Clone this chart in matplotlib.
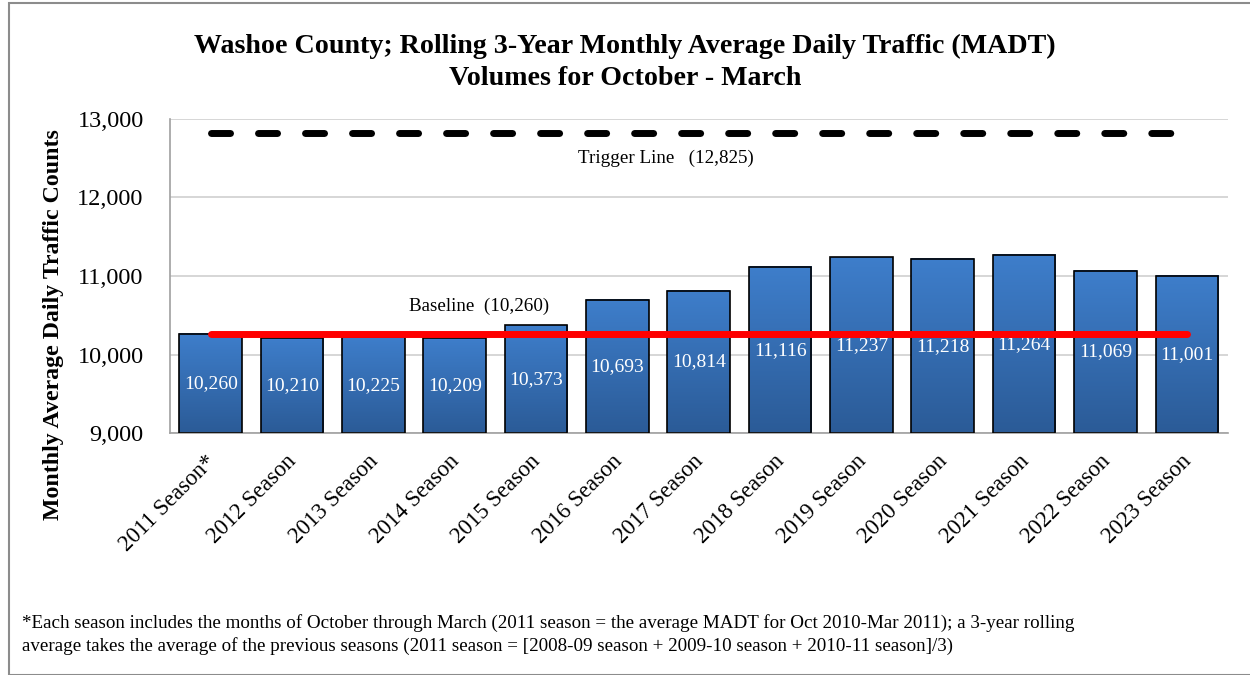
import numpy as np
import matplotlib
matplotlib.use('Agg')
from matplotlib import pyplot as plt
from matplotlib.patches import Rectangle
from matplotlib.transforms import ScaledTranslation

plt.rcParams['font.family'] = ['Liberation Serif', 'DejaVu Serif']

# data
seasons = ['2011 Season*', '2012 Season', '2013 Season', '2014 Season', '2015 Season',
           '2016 Season', '2017 Season', '2018 Season', '2019 Season', '2020 Season',
           '2021 Season', '2022 Season', '2023 Season']
madt = [10260, 10210, 10225, 10209, 10373, 10693, 10814, 11116, 11237, 11218, 11264, 11069, 11001]
baseline = 10260
trigger = 12825
y_min, y_max = 9000, 13000
yticks = [9000, 10000, 11000, 12000, 13000]

fig = plt.figure(figsize=(12.5, 6.75), dpi=100)
ax = fig.add_axes([0.136, 0.358, 0.846, 0.466])

x = np.arange(len(seasons))
w = 0.77
grad = np.linspace(0, 1, 256).reshape(-1, 1)
cmap = matplotlib.colors.LinearSegmentedColormap.from_list('b', ['#2b5b97', '#3e7ecb'])
for xi, v in zip(x, madt):
    ax.imshow(grad, extent=(xi - w/2, xi + w/2, y_min, v), origin='lower',
              cmap=cmap, aspect='auto', zorder=2)
    ax.bar(xi, v - y_min, bottom=y_min, width=w, facecolor='none',
           edgecolor='black', linewidth=1.2, zorder=3)
    ax.text(xi, (v + y_min) / 2, f'{v:,}', ha='center', va='center',
            color='white', fontsize=14, zorder=4)

# baseline and trigger
ax.plot([x[0], x[-1]], [baseline, baseline], color='#ff0000', linewidth=5,
        solid_capstyle='round', zorder=5)
ax.plot([x[0], x[-1] - 0.2], [trigger, trigger], color='black', linewidth=5,
        dashes=(2.74, 4.03), dash_capstyle='round', zorder=5)
ax.text(5.6, 12500, 'Trigger Line   (12,825)', ha='center', va='center', fontsize=13.7)
ax.text(3.3, 10610, 'Baseline  (10,260)', ha='center', va='center', fontsize=13.7)

ax.set_xlim(-0.5, len(seasons) - 0.5)
ax.set_ylim(y_min, y_max)
ax.set_yticks(yticks)
ax.set_yticklabels([f'{t:,}' for t in yticks], fontsize=17.5)
ax.set_xticks(x)
ax.set_xticklabels(seasons, rotation=45, ha='right', rotation_mode='anchor', fontsize=16.5)
ax.tick_params(axis='y', length=0, pad=19)
ax.tick_params(axis='x', length=0, pad=12)
shift = ScaledTranslation(-6/100, -1/100, fig.dpi_scale_trans)
for lab in ax.get_xticklabels():
    lab.set_transform(lab.get_transform() + shift)
ax.grid(axis='y', color='#d0d0d0', linewidth=1.2, zorder=0)
ax.set_axisbelow(True)
for s in ['top', 'right']:
    ax.spines[s].set_visible(False)
for s in ['left', 'bottom']:
    ax.spines[s].set_color('#a0a0a0')
    ax.spines[s].set_linewidth(1.2)
ax.set_ylabel('Monthly Average Daily Traffic Counts', fontsize=17.2, fontweight='bold')
ax.yaxis.set_label_coords(-0.1, 0.345)

fig.text(0.5, 0.908, 'Washoe County; Rolling 3-Year Monthly Average Daily Traffic (MADT)\nVolumes for October - March',
         ha='center', va='center', fontsize=20.2, fontweight='bold', linespacing=1.36)
fig.text(0.018, 0.06, '*Each season includes the months of October through March (2011 season = the average MADT for Oct 2010-Mar 2011); a 3-year rolling\n'
         'average takes the average of the previous seasons (2011 season = [2008-09 season + 2009-10 season + 2010-11 season]/3)',
         ha='left', va='center', fontsize=13.7, linespacing=1.35)

fig.patches.append(Rectangle((0.007, 0.0), 0.995, 0.996, transform=fig.transFigure,
                             fill=False, edgecolor='#8c8c8c', linewidth=1.5))

fig.savefig('out.png', dpi=100)
print('OK')
